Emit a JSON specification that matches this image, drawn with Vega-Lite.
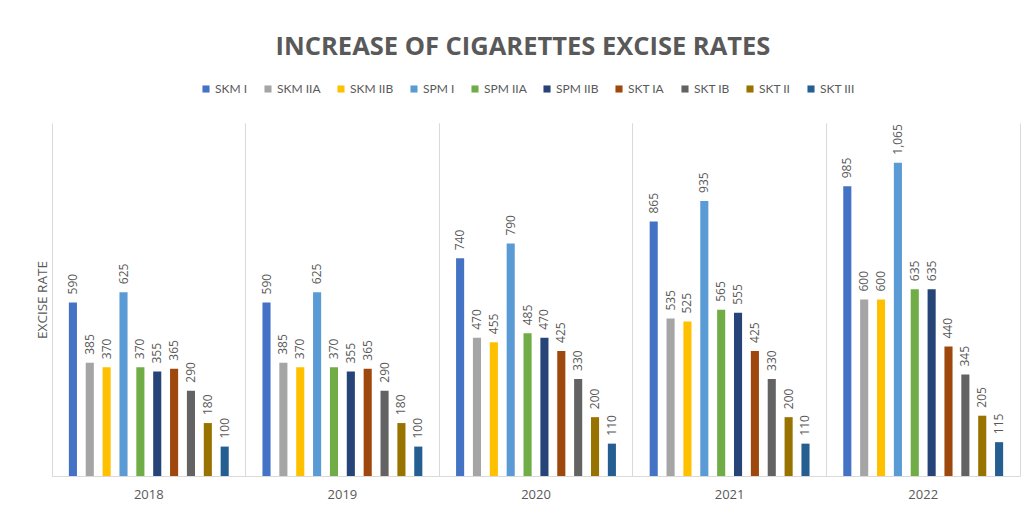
{
  "$schema": "https://vega.github.io/schema/vega-lite/v6.json",
  "width": 968,
  "height": 353,
  "autosize": {"type": "none"},
  "padding": {"left": 52, "top": 123, "right": 6, "bottom": 30},
  "background": "white",
  "title": {
    "text": "INCREASE OF CIGARETTES EXCISE RATES",
    "font": "Open Sans",
    "fontSize": 25.5,
    "fontWeight": "bold",
    "color": "#595959",
    "anchor": "middle",
    "dx": -13,
    "offset": 23
  },
  "data": {
    "values": [
      {"year": "2018", "type": "SKM I", "rate": 590},
      {"year": "2018", "type": "SKM IIA", "rate": 385},
      {"year": "2018", "type": "SKM IIB", "rate": 370},
      {"year": "2018", "type": "SPM I", "rate": 625},
      {"year": "2018", "type": "SPM IIA", "rate": 370},
      {"year": "2018", "type": "SPM IIB", "rate": 355},
      {"year": "2018", "type": "SKT IA", "rate": 365},
      {"year": "2018", "type": "SKT IB", "rate": 290},
      {"year": "2018", "type": "SKT II", "rate": 180},
      {"year": "2018", "type": "SKT III", "rate": 100},
      {"year": "2019", "type": "SKM I", "rate": 590},
      {"year": "2019", "type": "SKM IIA", "rate": 385},
      {"year": "2019", "type": "SKM IIB", "rate": 370},
      {"year": "2019", "type": "SPM I", "rate": 625},
      {"year": "2019", "type": "SPM IIA", "rate": 370},
      {"year": "2019", "type": "SPM IIB", "rate": 355},
      {"year": "2019", "type": "SKT IA", "rate": 365},
      {"year": "2019", "type": "SKT IB", "rate": 290},
      {"year": "2019", "type": "SKT II", "rate": 180},
      {"year": "2019", "type": "SKT III", "rate": 100},
      {"year": "2020", "type": "SKM I", "rate": 740},
      {"year": "2020", "type": "SKM IIA", "rate": 470},
      {"year": "2020", "type": "SKM IIB", "rate": 455},
      {"year": "2020", "type": "SPM I", "rate": 790},
      {"year": "2020", "type": "SPM IIA", "rate": 485},
      {"year": "2020", "type": "SPM IIB", "rate": 470},
      {"year": "2020", "type": "SKT IA", "rate": 425},
      {"year": "2020", "type": "SKT IB", "rate": 330},
      {"year": "2020", "type": "SKT II", "rate": 200},
      {"year": "2020", "type": "SKT III", "rate": 110},
      {"year": "2021", "type": "SKM I", "rate": 865},
      {"year": "2021", "type": "SKM IIA", "rate": 535},
      {"year": "2021", "type": "SKM IIB", "rate": 525},
      {"year": "2021", "type": "SPM I", "rate": 935},
      {"year": "2021", "type": "SPM IIA", "rate": 565},
      {"year": "2021", "type": "SPM IIB", "rate": 555},
      {"year": "2021", "type": "SKT IA", "rate": 425},
      {"year": "2021", "type": "SKT IB", "rate": 330},
      {"year": "2021", "type": "SKT II", "rate": 200},
      {"year": "2021", "type": "SKT III", "rate": 110},
      {"year": "2022", "type": "SKM I", "rate": 985},
      {"year": "2022", "type": "SKM IIA", "rate": 600},
      {"year": "2022", "type": "SKM IIB", "rate": 600},
      {"year": "2022", "type": "SPM I", "rate": 1065},
      {"year": "2022", "type": "SPM IIA", "rate": 635},
      {"year": "2022", "type": "SPM IIB", "rate": 635},
      {"year": "2022", "type": "SKT IA", "rate": 440},
      {"year": "2022", "type": "SKT IB", "rate": 345},
      {"year": "2022", "type": "SKT II", "rate": 205},
      {"year": "2022", "type": "SKT III", "rate": 115}
    ]
  },
  "encoding": {
    "x": {
      "field": "year",
      "type": "nominal",
      "scale": {"paddingInner": 0, "paddingOuter": 0}
    },
    "xOffset": {
      "field": "type",
      "type": "nominal",
      "sort": ["SKM I", "SKM IIA", "SKM IIB", "SPM I", "SPM IIA", "SPM IIB", "SKT IA", "SKT IB", "SKT II", "SKT III"],
      "scale": {"paddingInner": 0.52, "paddingOuter": 1.1}
    },
    "y": {
      "field": "rate",
      "type": "quantitative",
      "scale": {"domain": [0, 1200], "nice": false},
      "axis": {
        "title": "EXCISE RATE",
        "titleFont": "Open Sans",
        "titleFontSize": 13.5,
        "titleFontWeight": "normal",
        "titleColor": "#595959",
        "titlePadding": 3,
        "labels": false,
        "ticks": false,
        "domain": false,
        "grid": false
      }
    }
  },
  "layer": [
    {
      "mark": {"type": "bar", "stroke": null},
      "encoding": {
        "x": {
          "field": "year",
          "type": "nominal",
          "axis": {
            "title": null,
            "labelAngle": 0,
            "labelFont": "Open Sans",
            "labelFontSize": 13,
            "labelColor": "#595959",
            "labelPadding": 12,
            "ticks": false,
            "domainColor": "#D9D9D9",
            "grid": true,
            "gridColor": "#D9D9D9",
            "bandPosition": 0
          }
        },
        "color": {
          "field": "type",
          "type": "nominal",
          "scale": {
            "domain": ["SKM I", "SKM IIA", "SKM IIB", "SPM I", "SPM IIA", "SPM IIB", "SKT IA", "SKT IB", "SKT II", "SKT III"],
            "range": ["#4472C4", "#A5A5A5", "#FFC000", "#5B9BD5", "#70AD47", "#264478", "#9E480E", "#636363", "#997300", "#255E91"]
          },
          "legend": {
            "title": null,
            "orient": "none",
            "legendX": 148,
            "legendY": -40,
            "direction": "horizontal",
            "symbolType": "square",
            "symbolSize": 50,
            "symbolStrokeWidth": 0,
            "labelFont": "Lato",
            "labelFontSize": 12,
            "labelColor": "#595959",
            "labelOffset": 3,
            "columnPadding": 14
          }
        }
      }
    },
    {
      "mark": {
        "type": "text",
        "angle": 270,
        "align": "left",
        "baseline": "middle",
        "dx": 8,
        "font": "Open Sans",
        "fontSize": 12,
        "color": "#595959"
      },
      "encoding": {
        "x": {
          "field": "year",
          "type": "nominal",
          "axis": {
            "orient": "top",
            "title": null,
            "labels": false,
            "ticks": false,
            "domain": false,
            "grid": true,
            "gridColor": "#D9D9D9",
            "bandPosition": 1
          }
        },
        "text": {"field": "rate", "type": "quantitative", "format": ","}
      }
    }
  ],
  "resolve": {"axis": {"x": "independent"}},
  "config": {
    "view": {"stroke": null}
  }
}
